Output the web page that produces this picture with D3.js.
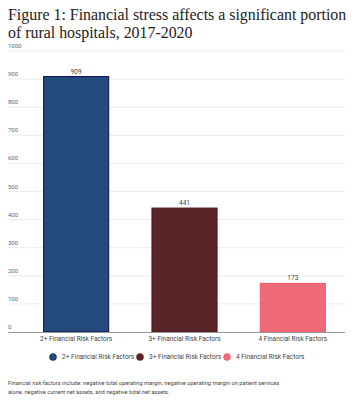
<!DOCTYPE html>
<html><head><meta charset="utf-8">
<script src="https://cdn.jsdelivr.net/npm/d3@7"></script>
<style>body{margin:0;background:#fff;}</style>
</head><body>
<svg id="c" width="356" height="400"></svg>
<script>
const categories = ["2+ Financial Risk Factors", "3+ Financial Risk Factors", "4 Financial Risk Factors"];
const values = [909, 441, 173];
const yTicks = [0, 100, 200, 300, 400, 500, 600, 700, 800, 900, 1000];
const fills = ["#254a7c", "#5a2428", "#ef6b77"];
const strokes = ["#0a0a5a", "#4a1212", "#f25565"];
const titleLines = ["Figure 1: Financial stress affects a significant portion", "of rural hospitals, 2017-2020"];
const noteLines = ["Financial risk factors include: negative total operating margin, negative operating margin on patient services", "alone, negative current net assets, and negative total net assets."];

const svg = d3.select("#c");
const left = 8, right = 345;
const y = d3.scaleLinear().domain([0, 1000]).range([332, 51]);
const x = d3.scaleBand().domain(categories).range([22, 347]).paddingInner(0.39).paddingOuter(0.195);

svg.selectAll("text.title").data(titleLines).enter().append("text")
  .attr("x", 8).attr("y", (d, i) => 20 + i * 17.5)
  .attr("font-family", "Liberation Serif, serif").attr("font-size", 15.9).attr("fill", "#222")
  .text(d => d);

// gridlines
svg.selectAll("line.grid").data(yTicks.filter(d => d > 0)).enter().append("line")
  .attr("x1", left).attr("x2", right).attr("y1", d => y(d)).attr("y2", d => y(d))
  .attr("stroke", "#ececec").attr("stroke-width", 1);
svg.selectAll("text.tick").data(yTicks).enter().append("text")
  .attr("x", left).attr("y", d => y(d) - 3)
  .attr("font-family", "Roboto, sans-serif").attr("font-size", 6).attr("fill", "#666")
  .text(d => d);

svg.selectAll("rect.bar").data(values).enter().append("rect")
  .attr("x", (d, i) => x(categories[i]) + 0.5).attr("width", x.bandwidth() - 1)
  .attr("y", d => y(d)).attr("height", d => y(0) - y(d))
  .attr("fill", (d, i) => fills[i]).attr("stroke", (d, i) => strokes[i]).attr("stroke-width", 1);

svg.selectAll("text.val").data(values).enter().append("text")
  .attr("x", (d, i) => x(categories[i]) + x.bandwidth() / 2).attr("y", d => y(d) - 3)
  .attr("text-anchor", "middle")
  .attr("font-family", "Roboto, sans-serif").attr("font-size", 6.5).attr("fill", "#444")
  .text(d => d);

svg.append("line").attr("x1", left).attr("x2", right).attr("y1", y(0) + 0.5).attr("y2", y(0) + 0.5)
  .attr("stroke", "#999").attr("stroke-width", 1);

svg.selectAll("text.cat").data(categories).enter().append("text")
  .attr("x", d => x(d) + x.bandwidth() / 2).attr("y", 341)
  .attr("text-anchor", "middle")
  .attr("font-family", "Roboto, sans-serif").attr("font-size", 6.5).attr("fill", "#444")
  .text(d => d);

// legend
const legX = [53, 140, 227];
const lg = svg.selectAll("g.leg").data(categories).enter().append("g")
  .attr("transform", (d, i) => `translate(${legX[i]},357)`);
lg.append("circle").attr("r", 3.5).attr("fill", (d, i) => fills[i]).attr("stroke", (d, i) => strokes[i]).attr("stroke-width", 0.5);
lg.append("text").attr("x", 9).attr("y", 2.3)
  .attr("font-family", "Roboto, sans-serif").attr("font-size", 6.5).attr("fill", "#444")
  .text(d => d);

svg.selectAll("text.note").data(noteLines).enter().append("text")
  .attr("x", 8).attr("y", (d, i) => 385 + i * 9)
  .attr("font-family", "Roboto, sans-serif").attr("font-size", 5.7).attr("fill", "#444")
  .text(d => d);
</script>
</body></html>
